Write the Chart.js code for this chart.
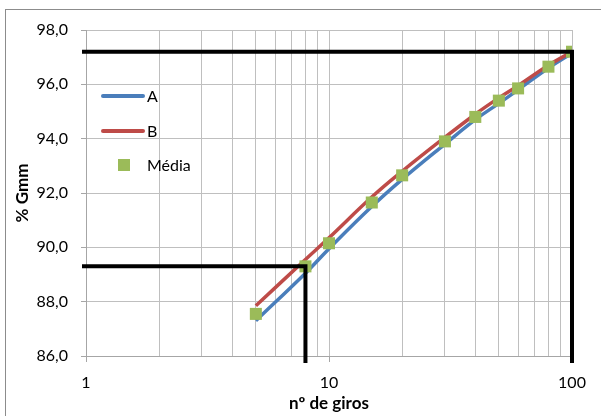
<!DOCTYPE html>
<html>
<head>
<meta charset="utf-8">
<script src="https://cdn.jsdelivr.net/npm/chart.js@4.4.1/dist/chart.umd.min.js"></script>
<style>
  html, body { margin: 0; padding: 0; background: #fff; overflow: hidden; }
  #frame { position: absolute; left: 5px; top: 9px; width: 640px; height: 460px;
           border: 1px solid #8c8c8c; box-sizing: border-box; }
  #wrap { position: absolute; left: 0; top: 0; width: 601px; height: 416px; }
</style>
</head>
<body>
<div id="frame"></div>
<div id="wrap"><canvas id="c" width="601" height="416"></canvas></div>
<script>
// Number of gyrations (x) and densification (% Gmm) of the two specimens
const giros  = [5, 8, 10, 15, 20, 30, 40, 50, 60, 80, 100];
const serieA = [87.3, 89.05, 89.95, 91.5, 92.5, 93.8, 94.7, 95.3, 95.8, 96.6, 97.15];
const serieB = [87.85, 89.55, 90.35, 91.85, 92.8, 94.05, 94.9, 95.5, 95.95, 96.7, 97.2];
const media  = [87.55, 89.3, 90.15, 91.65, 92.65, 93.9, 94.8, 95.4, 95.85, 96.65, 97.2];

// Axis ticks
const xGridValues  = [1, 2, 3, 4, 5, 6, 7, 8, 9, 10, 20, 30, 40, 50, 60, 70, 80, 90, 100];
const xMajorValues = [1, 10, 100];
const yTickValues  = [86, 88, 90, 92, 94, 96, 98];

// Guide lines: N inicial and N projeto
const guideInicial = { x: 8, y: 89.3 };
const guideProjeto = { x: 100, y: 97.2 };

const seriesNames = ['A', 'B', 'Média'];
const FONT = 'Lato, "Open Sans", sans-serif';

const toPoints = (vals) => giros.map((g, i) => ({ x: g, y: vals[i] }));

// Black guide lines that run from the curve to both axes
const guidePlugin = {
  id: 'guides',
  afterDatasetsDraw(chart) {
    const { ctx, chartArea, scales: { x, y } } = chart;
    ctx.save();
    ctx.strokeStyle = '#000';
    ctx.lineWidth = 4;
    ctx.lineCap = 'butt';
    [guideInicial, guideProjeto].forEach(g => {
      const px = x.getPixelForValue(g.x);
      const py = y.getPixelForValue(g.y);
      ctx.beginPath();
      ctx.moveTo(chartArea.left - 4, py);
      ctx.lineTo(px + 2, py);
      ctx.moveTo(px, py - 2);
      ctx.lineTo(px, chartArea.bottom + 7);
      ctx.stroke();
    });
    ctx.restore();
  }
};

// Legend drawn inside the plot area, top left
const insideLegend = {
  id: 'insideLegend',
  afterDraw(chart) {
    const { ctx, chartArea } = chart;
    const x0 = chartArea.left + 17;
    const rows = [chartArea.top + 66, chartArea.top + 101, chartArea.top + 135];
    ctx.save();
    ctx.font = '16px ' + FONT;
    ctx.textBaseline = 'middle';
    ctx.fillStyle = '#000';
    chart.data.datasets.forEach((ds, i) => {
      const yy = rows[i];
      if (ds.showLine === false) {
        ctx.fillStyle = ds.backgroundColor;
        ctx.fillRect(x0 + 15, yy - 6, 12, 12);
      } else {
        ctx.strokeStyle = ds.borderColor;
        ctx.lineWidth = 4;
        ctx.lineCap = 'round';
        ctx.beginPath();
        ctx.moveTo(x0, yy);
        ctx.lineTo(x0 + 40, yy);
        ctx.stroke();
      }
      ctx.fillStyle = '#000';
      ctx.fillText(ds.label, x0 + 44, yy + 1);
    });
    ctx.restore();
  }
};

new Chart(document.getElementById('c'), {
  type: 'line',
  data: {
    datasets: [
      {
        label: seriesNames[0],
        data: toPoints(serieA),
        borderColor: '#4a7ebb',
        borderWidth: 3.5,
        pointRadius: 0,
        tension: 0.4,
        order: 3
      },
      {
        label: seriesNames[1],
        data: toPoints(serieB),
        borderColor: '#be4b48',
        borderWidth: 3.5,
        pointRadius: 0,
        tension: 0.4,
        order: 2
      },
      {
        label: seriesNames[2],
        data: toPoints(media),
        showLine: false,
        pointStyle: 'rect',
        pointRadius: 8.5,
        backgroundColor: '#9bbb59',
        borderColor: '#9bbb59',
        borderWidth: 0,
        order: 1
      }
    ]
  },
  options: {
    responsive: false,
    animation: false,
    devicePixelRatio: 1,
    layout: { padding: { left: 0, right: 29, top: 30, bottom: 0 } },
    plugins: { legend: { display: false }, tooltip: { enabled: false } },
    scales: {
      x: {
        type: 'logarithmic',
        min: 1,
        max: 100,
        afterBuildTicks(scale) {
          scale.ticks = xGridValues.map(v => ({ value: v, major: xMajorValues.includes(v) }));
        },
        afterFit(scale) { scale.height = 60; },
        ticks: {
          autoSkip: false,
          maxRotation: 0,
          padding: 11,
          color: '#000',
          font: { family: FONT, size: 16 },
          callback: (v) => xMajorValues.includes(v) ? String(v) : ''
        },
        grid: {
          color: '#bfbfbf',
          lineWidth: 1,
          tickLength: 6,
          tickColor: (c) => (c.tick && c.tick.major) ? '#a6a6a6' : 'rgba(0,0,0,0)'
        },
        border: { color: '#a6a6a6' },
        title: {
          display: true,
          text: 'nº de giros',
          color: '#000',
          font: { family: FONT, size: 17, weight: 'bold' },
          padding: { top: 0, bottom: 2 }
        }
      },
      y: {
        type: 'linear',
        min: 86,
        max: 98,
        afterBuildTicks(scale) {
          scale.ticks = yTickValues.map(v => ({ value: v }));
        },
        afterFit(scale) { scale.width = 86; },
        ticks: {
          padding: 13,
          color: '#000',
          font: { family: FONT, size: 16 },
          callback: (v) => v.toFixed(1).replace('.', ',')
        },
        grid: { color: '#bfbfbf', lineWidth: 1, tickLength: 5, tickColor: '#a6a6a6' },
        border: { color: '#a6a6a6' },
        title: {
          display: true,
          text: '% Gmm',
          color: '#000',
          font: { family: FONT, size: 17, weight: 'bold' },
          padding: { top: 12, bottom: 0 }
        }
      }
    }
  },
  plugins: [guidePlugin, insideLegend]
});
</script>
</body>
</html>
